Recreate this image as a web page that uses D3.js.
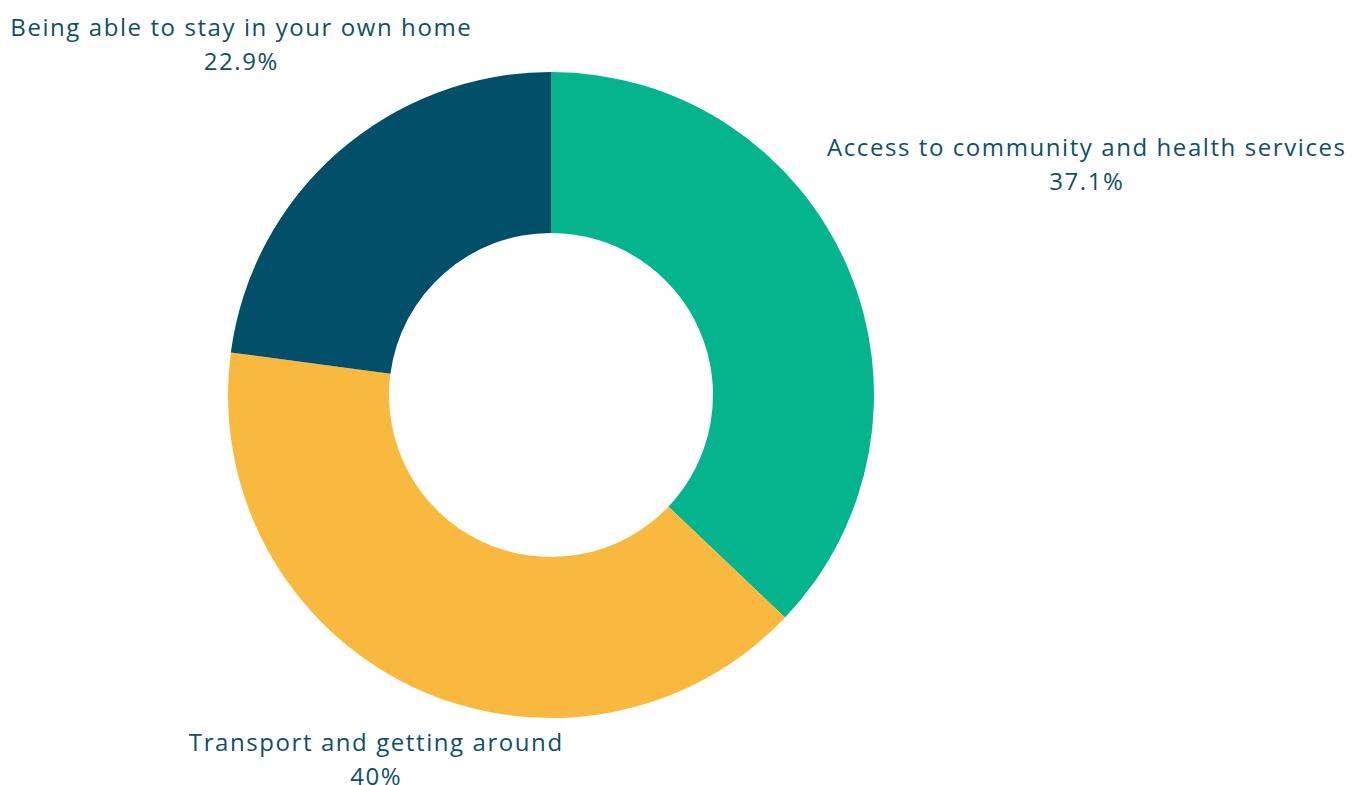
<!DOCTYPE html>
<html><head><meta charset="utf-8">
<script src="https://cdn.jsdelivr.net/npm/d3@7"></script>
<style>html,body{margin:0;padding:0;background:#fff;overflow:hidden}</style>
</head><body>
<svg id="chart" width="1357" height="785"></svg>
<script>
const categories = ["Access to community and health services", "Transport and getting around", "Being able to stay in your own home"];
const values = [37.1, 40, 22.9];
const valueLabels = ["37.1%", "40%", "22.9%"];
const colors = ["#04B48C", "#F9B93F", "#024F6A"];

const W = 1357, H = 785;
const cx = 551, cy = 395, outerR = 323, innerR = 162;
// label placement: radius along slice mid-angle, plus vertical nudge
const labelLayout = [{r: 583, dy: 0}, {r: 405, dy: 0}, {r: 470, dy: 4}];
const textColor = "#0F5068";
const fontFamily = "'Open Sans', sans-serif";
const fontSize = 24;
const refWidth = 462; // width of the top-left label line in the reference

const svg = d3.select("#chart");
const g = svg.append("g").attr("transform", `translate(${cx},${cy})`);
const pie = d3.pie().sort(null).value(d => d)(values);
const arc = d3.arc().innerRadius(innerR).outerRadius(outerR);

g.selectAll("path").data(pie).join("path")
  .attr("d", arc).attr("fill", (d, i) => colors[i]);

// measure to pick letter spacing that matches the reference's wider font
const probe = svg.append("text").attr("font-family", fontFamily).attr("font-size", fontSize).text(categories[2]);
const natural = probe.node().getComputedTextLength();
probe.remove();
const ls = (refWidth - natural) / categories[2].length;

pie.forEach((d, i) => {
  const mid = (d.startAngle + d.endAngle) / 2;
  const L = labelLayout[i];
  const x = Math.sin(mid) * L.r, y = -Math.cos(mid) * L.r + L.dy;
  const t = g.append("text").attr("text-anchor", "middle")
    .attr("font-family", fontFamily).attr("font-size", fontSize)
    .attr("letter-spacing", ls)
    .attr("fill", textColor).attr("x", x).attr("y", y - 9);
  t.append("tspan").attr("x", x).text(categories[i]);
  t.append("tspan").attr("x", x).attr("dy", 34).text(valueLabels[i]);
});
</script>
</body></html>
